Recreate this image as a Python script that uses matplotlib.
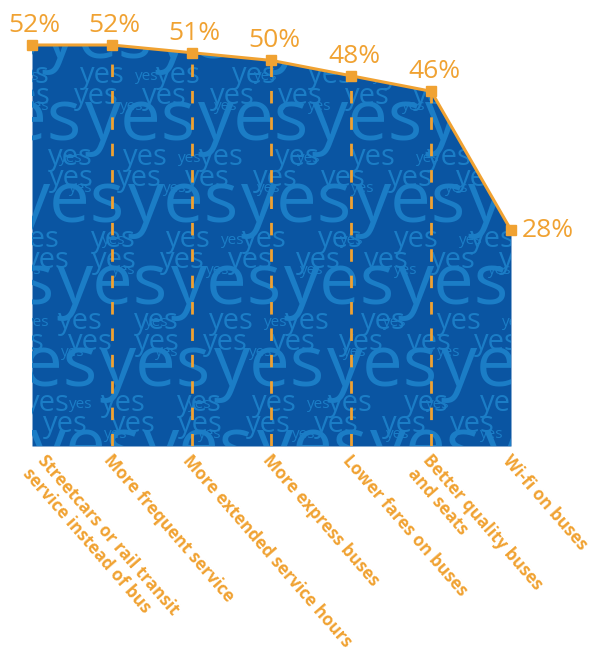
import matplotlib
matplotlib.use("Agg")
import matplotlib.pyplot as plt
import numpy as np

categories = [
    "Streetcars or rail transit\nservice instead of bus",
    "More frequent service",
    "More extended service hours",
    "More express buses",
    "Lower fares on buses",
    "Better quality buses\nand seats",
    "Wi-fi on buses",
]
values = [52, 52, 51, 50, 48, 46, 28]

ORANGE = "#F0A232"
FILL = "#0A55A2"
TEXTURE = "#1B7DC6"

plt.rcParams["font.family"] = ["Open Sans", "DejaVu Sans"]

W, H = 479, 401  # axes size in pixels
fig = plt.figure(figsize=(6.01, 6.51), dpi=100)
ax = fig.add_axes([32 / 601, 205 / 651, W / 601, H / 651])
ax.set_xlim(0, len(values) - 1)
ax.set_ylim(0, max(values))
ax.axis("off")

x = np.arange(len(values))
ax.fill_between(x, values, color=FILL, lw=0, zorder=1)

# "yes" word texture, clipped to axes then masked above the curve
rows = [  # rise px, size pt, x shift px, gap px
    (0, 52, 0, 0),
    (30, 11, 20, 70),
    (36, 21, 55, 22),
    (57, 21, 5, 30),
    (60, 11, 80, 95),
]
block = 82
k = 0
base = -22
while base < H + 20:
    for rise, size, shift, gap in rows:
        w = size * 100 / 72 * 1.57
        py = base + rise
        px = -((shift + k * 43) % (w + gap)) - 2
        while px < W:
            ax.text(px / W, py / H, "yes", transform=ax.transAxes, fontsize=size,
                    color=TEXTURE, ha="left", va="baseline", clip_on=True, zorder=2)
            px += w + gap
    base += block
    k += 1

ax.fill(np.r_[x, x[-1], x[0]], np.r_[values, max(values), max(values)],
        color="white", lw=0, zorder=3)

ax.vlines(x[1:-1], 0, values[1:-1], colors=ORANGE, linestyles=(0, (4.5, 5)),
          lw=2, zorder=4)
ax.plot(x, values, color=ORANGE, lw=2.2, marker="s", ms=7.5, zorder=5, clip_on=False)

for i, v in enumerate(values):
    if i == len(values) - 1:
        ax.annotate(f"{v}%", (i, v), xytext=(8, 0), textcoords="offset points",
                    ha="left", va="center", fontsize=19, color=ORANGE)
    else:
        ax.annotate(f"{v}%", (i, v), xytext=(2, 5), textcoords="offset points",
                    ha="center", va="bottom", fontsize=19, color=ORANGE)

for i, lab in enumerate(categories):
    dx = 11 if i == 0 else 1
    ax.annotate(lab, (i, 0), xytext=(dx, -4), textcoords="offset points",
                rotation=-49, rotation_mode="anchor", ha="left", va="top",
                fontsize=12.3, fontweight="bold", color=ORANGE, linespacing=1.15,
                annotation_clip=False)

fig.savefig("out.png", dpi=100)
